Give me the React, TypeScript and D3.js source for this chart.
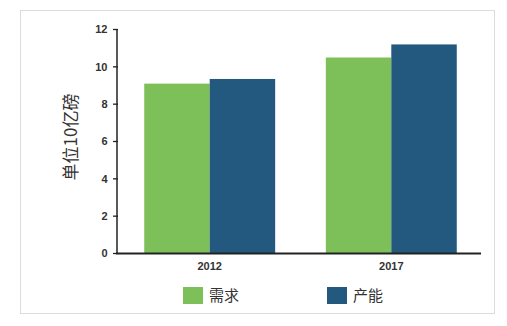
import React from "react";
import * as d3 from "d3";

const years = ["2012", "2017"];
const seriesNames = ["需求", "产能"];
const demand = [9.1, 10.5];
const capacity = [9.35, 11.2];
const yTicks = [0, 2, 4, 6, 8, 10, 12];
const yLabel = "单位10亿磅";
const colors = ["#7dbf58", "#23587f"];

export default function App() {
  const W = 507, H = 326;
  const x0 = d3.scaleBand<string>().domain(years).range([117, 484]).paddingInner(0.279).paddingOuter(0.15);
  const x1 = d3.scaleBand<string>().domain(seriesNames).range([0, x0.bandwidth()]).padding(0);
  const y = d3.scaleLinear().domain([0, 12]).range([253.5, 29.5]);
  const values = [demand, capacity];
  const axisColor = "#222";
  const font = "'Liberation Sans', Arial, Helvetica, sans-serif";
  const cjk = "'Noto Sans CJK SC', 'Noto Sans', sans-serif";
  const legendX = [183, 327];

  return (
    <svg width={W} height={H} style={{ position: "absolute", left: 0, top: 0, background: "#fff" }}>
      <rect x={20.5} y={10.5} width={474} height={303} fill="#fff" stroke="#dcdcdc" strokeWidth={1} />
      {years.map((yr, i) => (
        <g key={yr} transform={`translate(${x0(yr)},0)`}>
          {seriesNames.map((s, j) => (
            <rect
              key={s}
              x={x1(s)}
              y={y(values[j][i])}
              width={x1.bandwidth()}
              height={y(0) - y(values[j][i])}
              fill={colors[j]}
            />
          ))}
          <text
            x={x0.bandwidth() / 2}
            y={270}
            textAnchor="middle"
            fontFamily={font}
            fontWeight="bold"
            fontSize={11}
            fill="#333"
          >
            {yr}
          </text>
        </g>
      ))}
      <line x1={117} x2={117} y1={y(12)} y2={y(0)} stroke={axisColor} strokeWidth={1.5} />
      <line x1={116} x2={481} y1={y(0)} y2={y(0)} stroke={axisColor} strokeWidth={1.8} />
      {yTicks.map((t) => (
        <g key={t}>
          <line x1={113} x2={118} y1={y(t)} y2={y(t)} stroke={axisColor} strokeWidth={1.3} />
          <text
            x={107.5}
            y={y(t)}
            dy="0.36em"
            textAnchor="end"
            fontFamily={font}
            fontWeight="bold"
            fontSize={11}
            fill="#333"
          >
            {t}
          </text>
        </g>
      ))}
      <text
        transform={`translate(77,137) rotate(-90)`}
        textAnchor="middle"
        fontFamily={cjk}
        fontSize={17}
        fill="#333"
      >
        {yLabel}
      </text>
      {seriesNames.map((s, j) => (
        <g key={s}>
          <rect x={legendX[j]} y={287} width={20} height={17} fill={colors[j]} />
          <text x={legendX[j] + 26} y={301} fontFamily={cjk} fontSize={15} fill="#333">
            {s}
          </text>
        </g>
      ))}
    </svg>
  );
}
